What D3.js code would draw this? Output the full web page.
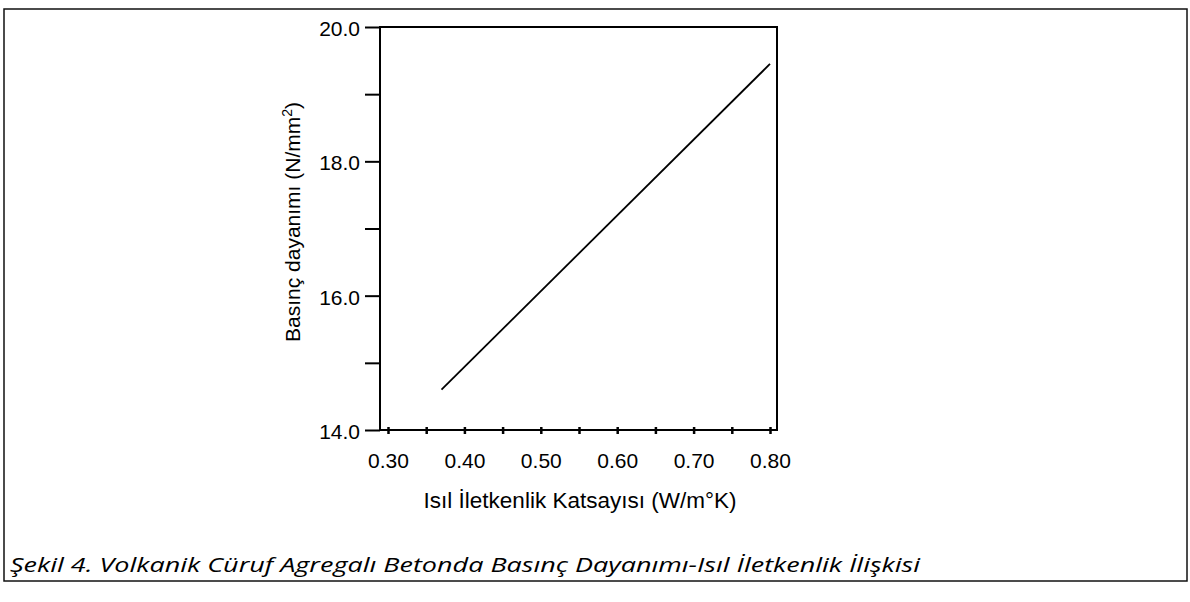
<!DOCTYPE html>
<html><head><meta charset="utf-8">
<script src="https://cdn.jsdelivr.net/npm/d3@7"></script>
<style>body{margin:0;background:#fff}svg{display:block}</style>
</head><body>
<script>
// Data
const xValues = [0.37, 0.80];
const yValues = [14.6, 19.45];
const xMajorTicks = [0.30, 0.40, 0.50, 0.60, 0.70, 0.80];
const xMinorTicks = [0.35, 0.45, 0.55, 0.65, 0.75];
const yMajorTicks = [14, 16, 18, 20];
const yMinorTicks = [15, 17, 19];
const xTitle = "Isıl İletkenlik Katsayısı (W/m°K)";
const yTitle = "Basınç dayanımı (N/mm";
const caption = "Şekil 4. Volkanik Cüruf Agregalı Betonda Basınç Dayanımı-Isıl İletkenlik İlişkisi";

const W = 1190, H = 602;
const svg = d3.select("body").append("svg").attr("width", W).attr("height", H);

// outer frame
svg.append("rect").attr("x", 4).attr("y", 9).attr("width", 1183).attr("height", 572)
  .attr("fill", "none").attr("stroke", "#111").attr("stroke-width", 1.5);

const plot = {left: 380, right: 777, top: 27, bottom: 430};
const x = d3.scaleLinear().domain([0.30, 0.80]).range([388, 770]);
const y = d3.scaleLinear().domain([14, 20]).range([430, 27]);

const font = "'Liberation Sans', Arial, sans-serif";
const fs = 21;

// plot frame (left, top, right, bottom)
svg.append("path")
  .attr("d", `M${plot.left},${plot.bottom}V${plot.top}H${plot.right}V${plot.bottom}H${plot.left}`)
  .attr("fill", "none").attr("stroke", "#000").attr("stroke-width", 2);

// Y axis
const yAxis = d3.axisLeft(y).tickValues(yMajorTicks).tickFormat(d3.format(".1f")).tickSize(15).tickPadding(5);
const gy = svg.append("g").attr("transform", `translate(${plot.left},0)`).call(yAxis);
gy.select(".domain").remove();
gy.selectAll("line").attr("stroke", "#000").attr("stroke-width", 2);
gy.selectAll("text").attr("font-family", font).attr("font-size", fs).attr("fill", "#000").attr("dy", "0.4em");
const yMinor = d3.axisLeft(y).tickValues(yMinorTicks).tickFormat("").tickSize(15);
const gym = svg.append("g").attr("transform", `translate(${plot.left},0)`).call(yMinor);
gym.select(".domain").remove();
gym.selectAll("line").attr("stroke", "#000").attr("stroke-width", 2);

// X axis
const xAxis = d3.axisBottom(x).tickValues(xMajorTicks).tickFormat(d3.format(".2f")).tickSize(7).tickPadding(19);
const gx = svg.append("g").attr("transform", `translate(0,${plot.bottom - 3})`).call(xAxis);
gx.select(".domain").remove();
gx.selectAll("line").attr("stroke", "#000").attr("stroke-width", 2.5);
gx.selectAll("text").attr("font-family", font).attr("font-size", fs).attr("fill", "#000");
const xMinor = d3.axisBottom(x).tickValues(xMinorTicks).tickFormat("").tickSize(7);
const gxm = svg.append("g").attr("transform", `translate(0,${plot.bottom - 3})`).call(xMinor);
gxm.select(".domain").remove();
gxm.selectAll("line").attr("stroke", "#000").attr("stroke-width", 2.5);

// data line
const pts = xValues.map((v, i) => [v, yValues[i]]);
svg.append("path").datum(pts)
  .attr("d", d3.line().x(d => x(d[0])).y(d => y(d[1])))
  .attr("fill", "none").attr("stroke", "#000").attr("stroke-width", 1.8);

// axis titles
svg.append("text").attr("x", 580).attr("y", 508).attr("text-anchor", "middle")
  .attr("font-family", font).attr("font-size", 22.5).text(xTitle);

const yt = svg.append("text").attr("transform", "translate(300,222) rotate(-90)")
  .attr("text-anchor", "middle").attr("font-family", font).attr("font-size", fs);
yt.append("tspan").text(yTitle);
yt.append("tspan").attr("dy", -8).attr("font-size", 14).text("2");
yt.append("tspan").attr("dy", 8).text(")");

// caption
svg.append("text").attr("x", 10).attr("y", 572)
  .attr("font-family", "'Open Sans', 'DejaVu Sans', sans-serif").attr("font-style", "italic")
  .attr("font-size", 20).attr("textLength", 910).attr("lengthAdjust", "spacingAndGlyphs")
  .text(caption);
</script>
</body></html>
